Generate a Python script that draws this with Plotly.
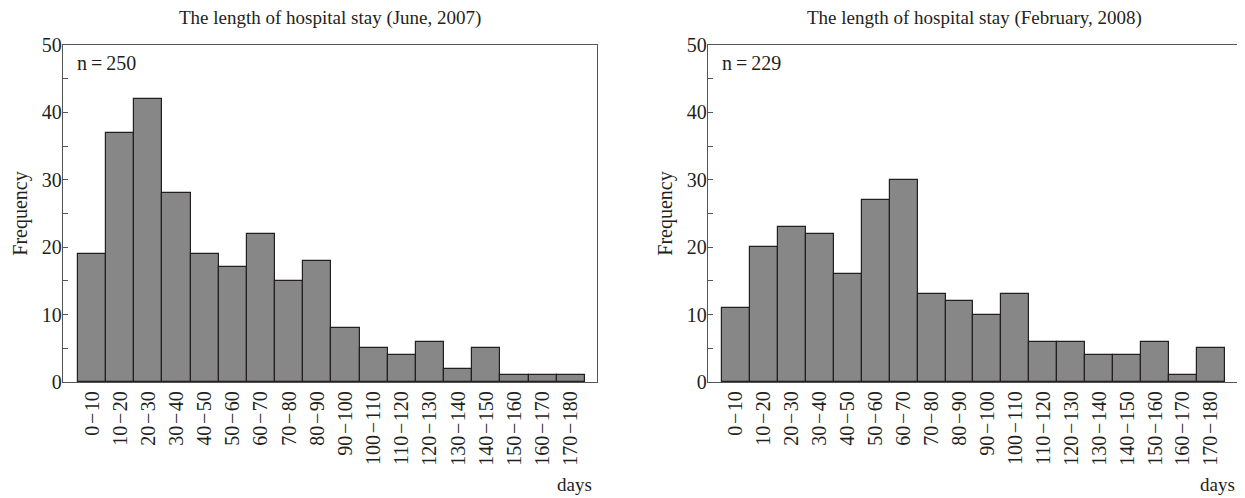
import plotly.graph_objects as go

HS = "\u200a"
categories = [f"0{HS}\u2212{HS}10", f"10{HS}\u2212{HS}20", f"20{HS}\u2212{HS}30", f"30{HS}\u2212{HS}40",
              f"40{HS}\u2212{HS}50", f"50{HS}\u2212{HS}60", f"60{HS}\u2212{HS}70", f"70{HS}\u2212{HS}80",
              f"80{HS}\u2212{HS}90", f"90{HS}\u2212{HS}100", f"100{HS}\u2212{HS}110", f"110{HS}\u2212{HS}120",
              f"120{HS}\u2212{HS}130", f"130{HS}\u2212{HS}140", f"140{HS}\u2212{HS}150", f"150{HS}\u2212{HS}160",
              f"160{HS}\u2212{HS}170", f"170{HS}\u2212{HS}180"]
freq_2007 = [19, 37, 42, 28, 19, 17, 22, 15, 18, 8, 5, 4, 6, 2, 5, 1, 1, 1]
freq_2008 = [11, 20, 23, 22, 16, 27, 30, 13, 12, 10, 13, 6, 6, 4, 4, 6, 1, 5]
titles = ["The length of hospital stay (June, 2007)", "The length of hospital stay (February, 2008)"]
n_labels = ["n\u2009=\u2009250", "n\u2009=\u2009229"]
y_ticks = [0, 10, 20, 30, 40, 50]

FONT = "Liberation Serif"
TXT = "#231f20"
OFF = 8  # default page body margin
W, H = 1245 - OFF, 498 - OFF

def px(x):
    return (x - OFF) / W

fig = go.Figure()
fig.add_trace(go.Bar(x=categories, y=freq_2007, xaxis="x", yaxis="y",
                     marker=dict(color="#878787", line=dict(color="#231f20", width=1.2)),
                     showlegend=False))
fig.add_trace(go.Bar(x=categories, y=freq_2008, xaxis="x2", yaxis="y2",
                     marker=dict(color="#878787", line=dict(color="#231f20", width=1.2)),
                     showlegend=False))

dom1 = [px(63), px(597)]
dom2 = [px(708), px(1240)]

def xax(domain, anchor, rng):
    return dict(domain=domain, anchor=anchor, type="category", range=rng,
                showline=True, mirror=True, linecolor="#555555", linewidth=1.3,
                ticks="", tickangle=-90, showgrid=False, zeroline=False,
                tickfont=dict(family=FONT, size=20, color=TXT))

def yax(anchor):
    return dict(domain=[0, 1], anchor=anchor, range=[0, 50],
                tickvals=y_ticks, ticks="inside", ticklen=5, tickcolor="#555555",
                minor=dict(dtick=5, tick0=0, ticks="inside", ticklen=5, tickcolor="#555555"),
                showline=True, mirror=True, linecolor="#555555", linewidth=1.3,
                showgrid=False, zeroline=False, ticklabelstandoff=-4,
                tickfont=dict(family=FONT, size=20, color=TXT),
                title=dict(text="Frequency", font=dict(family=FONT, size=20, color=TXT), standoff=8))

fig.update_layout(
    width=W, height=H,
    margin=dict(l=0, r=0, t=45 - OFF, b=116),
    paper_bgcolor="white", plot_bgcolor="white",
    bargap=0,
    xaxis=xax(dom1, "y", [-1.03, 17.93]),
    yaxis=yax("x"),
    xaxis2=xax(dom2, "y2", [-1.0, 18.04]),
    yaxis2=yax("x2"),
)

for i, (dom, xref, yref) in enumerate([(dom1, "x", "y"), (dom2, "x2", "y2")]):
    fig.add_annotation(text=titles[i], xref="paper", yref="paper",
                       x=(dom[0] + dom[1]) / 2, y=1, yshift=14, xanchor="center", yanchor="bottom",
                       showarrow=False, font=dict(family=FONT, size=19, color=TXT))
    fig.add_annotation(text=n_labels[i], xref=xref + " domain", yref=yref + " domain",
                       x=0.022, y=0.985, xanchor="left", yanchor="top",
                       showarrow=False, font=dict(family=FONT, size=20, color=TXT))
    fig.add_annotation(text="days", xref="paper", yref="paper",
                       x=dom[1] - 3 / W, y=0, yshift=-90, xanchor="right", yanchor="top",
                       showarrow=False, font=dict(family=FONT, size=19, color=TXT))

fig.write_html("out.html")
